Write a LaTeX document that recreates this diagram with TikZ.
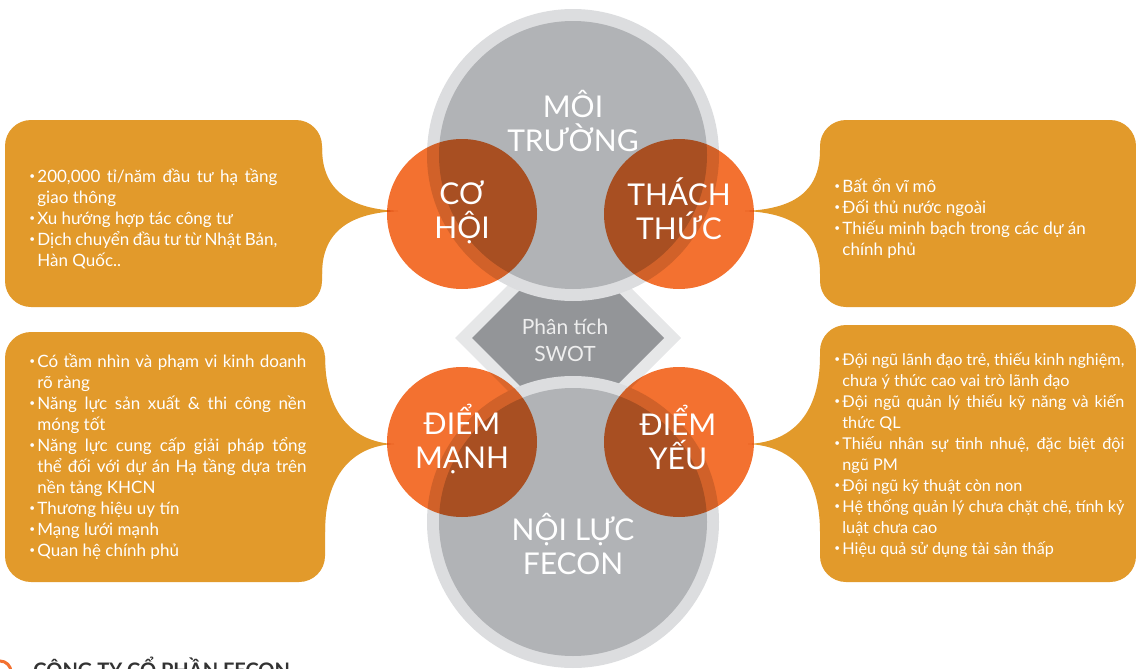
\documentclass[tikz,border=0pt]{standalone}
\usepackage{fontspec}
\setmainfont{Lato}
\definecolor{boxorange}{HTML}{E29A2B}
\definecolor{swotorange}{HTML}{F37130}
\definecolor{circlegray}{HTML}{B1B3B6}
\definecolor{ringgray}{HTML}{DCDDDF}
\definecolor{diamonddark}{HTML}{939598}
\definecolor{diamondlight}{HTML}{E6E7E8}
\definecolor{swottext}{HTML}{EEEEEE}
\definecolor{footgray}{HTML}{333333}
\newcommand\swotitem{\par\noindent\hangindent=4pt\hangafter=1\strut\makebox[4pt][l]{\raisebox{0.3ex}{\fontsize{5}{5}\selectfont •}}}
\newcommand\raggedbreak{\hfill\break}
\begin{document}
\begin{tikzpicture}[
        x=0.5pt,y=-0.5pt,
        every node/.style={text=white,inner sep=0pt},
        listbox/.style={fill=boxorange},
        listtext/.style={anchor=north west,align=justify,
            font=\fontsize{8.5}{10.5}\selectfont},
        bigword/.style={align=center,font=\fontsize{15}{17}\selectfont}
    ]
    \useasboundingbox (0,0) rectangle (1136,669);

    % callout boxes
    \fill [listbox,rounded corners=13pt] (5,120) rectangle (322,307);
    \fill [listbox] (318,148) -- (322,148)
        .. controls (322,192) and (352,209) .. (398,211)
        .. controls (352,213) and (322,230) .. (322,274)
        -- (318,274) -- cycle;
    \fill [listbox,rounded corners=13pt] (820,120) rectangle (1136,307);
    \fill [listbox] (824,150) -- (820,150)
        .. controls (820,193) and (792,209) .. (745,211)
        .. controls (792,213) and (820,230) .. (820,274)
        -- (824,274) -- cycle;
    \fill [listbox,rounded corners=13pt] (5,332) rectangle (325,582);
    \fill [listbox] (321,356) -- (325,356)
        .. controls (325,412) and (352,442) .. (394,444)
        .. controls (352,446) and (325,476) .. (325,532)
        -- (321,532) -- cycle;
    \fill [listbox,rounded corners=13pt] (820,325) rectangle (1136,582);
    \fill [listbox] (824,356) -- (820,356)
        .. controls (820,412) and (794,442) .. (748,444)
        .. controls (794,446) and (820,476) .. (820,532)
        -- (824,532) -- cycle;

    % swot diamond and circles
    \fill [diamondlight] (455,338) -- (568,225) -- (681,338) -- (568,451) -- cycle;
    \fill [diamonddark] (472,338) -- (568,242) -- (664,338) -- (568,434) -- cycle;
    \fill [ringgray] (573,155) circle[radius=73pt] (573,522) circle[radius=73pt];
    \fill [circlegray] (573,155) circle[radius=67pt] (573,522) circle[radius=67pt];
    \begin{scope}[blend mode=multiply]
        \fill [swotorange] (462,214) circle[radius=37.5pt] (679,214) circle[radius=37.5pt]
            (462,442) circle[radius=37.5pt] (679,442) circle[radius=37.5pt];
    \end{scope}

    \node [bigword] (moitruong) at (573,121) {MÔI\\TRƯỜNG};
    \node [bigword] (cohoi) at (462,212) {CƠ\\HỘI};
    \node [bigword] (thachthuc) at (679,209) {THÁCH\\THỨC};
    \node [bigword] (diemmanh) at (462,439) {ĐIỂM\\MẠNH};
    \node [bigword] (diemyeu) at (678,437) {ĐIỂM\\YẾU};
    \node [bigword] (noiluc) at (573,544) {NỘI LỰC\\FECON};
    \node [align=center,text=swottext,font=\fontsize{10.5}{13.5}\selectfont]
        (swot) at (565,340) {Phân tích\\SWOT};

    % lists
    \node [listtext,text width=124pt] (cohoilist) at (29,161) {%
        \swotitem 200,000 tỉ/năm đầu tư hạ tầng\linebreak giao thông
        \swotitem Xu hướng hợp tác công tư
        \swotitem Dịch chuyển đầu tư từ Nhật Bản,\raggedbreak Hàn Quốc..\par};
    \node [listtext,text width=134pt] (thachthuclist) at (834,171) {%
        \swotitem Bất ổn vĩ mô
        \swotitem Đối thủ nước ngoài
        \swotitem Thiếu minh bạch trong các dự án\raggedbreak chính phủ\par};
    \node [listtext,text width=138.5pt] (diemmanhlist) at (29,346) {%
        \swotitem Có tầm nhìn và phạm vi kinh doanh\linebreak rõ ràng
        \swotitem Năng lực sản xuất \& thi công nền\linebreak móng tốt
        \swotitem Năng lực cung cấp giải pháp tổng\linebreak thể đối với dự án Hạ tầng dựa trên\linebreak nền tảng KHCN
        \swotitem Thương hiệu uy tín
        \swotitem Mạng lưới mạnh
        \swotitem Quan hệ chính phủ\par};
    \node [listtext,text width=145pt,font=\fontsize{8.1}{10.5}\selectfont]
        (diemyeulist) at (834,344) {%
        \swotitem Đội ngũ lãnh đạo trẻ, thiếu kinh nghiệm,\linebreak chưa ý thức cao vai trò lãnh đạo
        \swotitem Đội ngũ quản lý thiếu kỹ năng và kiến\linebreak thức QL
        \swotitem Thiếu nhân sự tinh nhuệ, đặc biệt đội\linebreak ngũ PM
        \swotitem Đội ngũ kỹ thuật còn non
        \swotitem Hệ thống quản lý chưa chặt chẽ, tính kỷ\linebreak luật chưa cao
        \swotitem Hiệu quả sử dụng tài sản thấp\par};

    % footer, cut by the page edge
    \draw [swotorange,line width=1.5pt] (0,672) circle[radius=5.5pt];
    \node [anchor=base west,text=footgray,font=\fontsize{10}{12}\selectfont\bfseries]
        (congty) at (33,677) {CÔNG TY CỔ PHẦN FECON};
\end{tikzpicture}
\end{document}
